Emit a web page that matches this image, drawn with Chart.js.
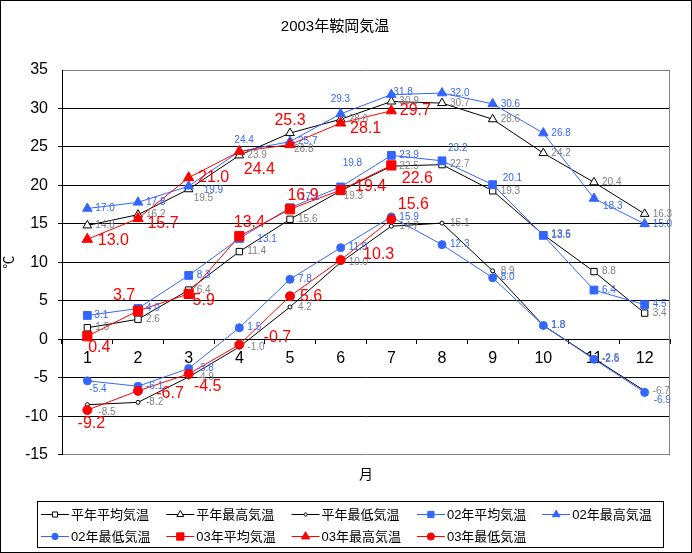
<!DOCTYPE html>
<html>
<head>
<meta charset="utf-8">
<script src="https://cdn.jsdelivr.net/npm/chart.js@4/dist/chart.umd.min.js"></script>
<style>
body { margin: 0; background: #fff; }
#wrap { width: 692px; height: 553px; }
</style>
</head>
<body>
<div id="wrap"><canvas id="tempChart" width="692" height="553"></canvas></div>
<script>
// months on the x axis
const months = ['1', '2', '3', '4', '5', '6', '7', '8', '9', '10', '11', '12'];
// normal year (平年)
const normAvg = [1.5, 2.6, 6.4, 11.4, 15.6, 19.3, 22.5, 22.7, 19.3, 13.6, 8.8, 3.4];
const normMax = [14.8, 16.2, 19.5, 23.9, 26.8, 28.6, 30.9, 30.7, 28.6, 24.2, 20.4, 16.3];
const normMin = [-8.5, -8.2, -4.9, -1.0, 4.2, 10.0, 14.7, 15.1, 8.9, 1.8, -2.5, -6.7];
// 2002
const avg02 = [3.1, 4.0, 8.3, 13.1, 17.1, 19.8, 23.9, 23.2, 20.1, 13.5, 6.4, 4.5];
const max02 = [17.0, 17.8, 19.9, 24.4, 25.7, 29.3, 31.8, 32.0, 30.6, 26.8, 18.3, 15.0];
const min02 = [-5.4, -6.1, -3.8, 1.5, 7.8, 11.9, 15.9, 12.3, 8.0, 1.8, -2.6, -6.9];
// 2003 (up to July)
const avg03 = [0.4, 3.7, 5.9, 13.4, 16.9, 19.4, 22.6, null, null, null, null, null];
const max03 = [13.0, 15.7, 21.0, 24.4, 25.3, 28.1, 29.7, null, null, null, null, null];
const min03 = [-9.2, -6.7, -4.5, -0.7, 5.6, 10.3, 15.6, null, null, null, null, null];
// y axis range
const yMin = -15;
const yMax = 35;
const yStep = 5;

const BLUE = '#3366ff';
const RED = '#ff0000';
const FONT = "'Liberation Sans', 'Noto Sans CJK JP', sans-serif";

// value label placement: small labels are left aligned (dx from point), big red ones centred
const smallGray = {color: '#808080', size: 10, align: 'left'};
const smallBlue = {color: BLUE, size: 10, align: 'left'};
const bigRed = {color: RED, size: 16, align: 'center'};
const labelMoves = [
  {0: [8, 0], 5: [3, 5]},
  {2: [5, 9], 4: [4, 16]},
  {0: [11, 8]},
  {0: [7, 0], 3: [18, 1], 4: [10, -10], 5: [2, -24], 7: [6, -13], 8: [10, -6]},
  {2: [15, 4], 3: [-5, -11], 5: [-10, -15], 6: [2, -2], 10: [9, 8]},
  {0: [2, 8], 11: [9, 8]},
  [[12, 11], [-14, -15], [15, 7], [10, -14], [13, -14], [30, -3], [26, 13]],
  [[26, 1], [25, 5], [25, 0], [20, 18], [0, -24], [25, 6], [24, 0]],
  [[4, 14], [32, 3], [19, 13], [38, -7], [21, 0], [38, -5], [22, -15]]
];
const labelLooks = [smallGray, smallGray, smallGray, smallBlue, smallBlue, smallBlue, bigRed, bigRed, bigRed];

function series(label, data, color, style, radius, fill, order) {
  return {
    label: label,
    data: data,
    order: order,
    borderColor: color,
    borderWidth: 1,
    pointStyle: style,
    pointRadius: radius,
    pointBorderWidth: 1,
    pointBorderColor: color,
    pointBackgroundColor: fill,
    tension: 0
  };
}

const valueLabels = {
  id: 'valueLabels',
  afterDatasetsDraw(chart) {
    const ctx = chart.ctx;
    ctx.save();
    ctx.textBaseline = 'middle';
    chart.data.datasets.forEach(function(ds, i) {
      const look = labelLooks[i];
      const moves = labelMoves[i];
      ctx.font = look.size + 'px ' + FONT;
      ctx.fillStyle = look.color;
      ctx.textAlign = look.align;
      chart.getDatasetMeta(i).data.forEach(function(pt, j) {
        const v = ds.data[j];
        if (v === null) return;
        const m = moves[j] || [8, 0];
        ctx.fillText(v.toFixed(1), pt.x + m[0], pt.y + m[1]);
      });
    });
    ctx.restore();
  }
};

const frame = {
  id: 'frame',
  afterDraw(chart) {
    const ctx = chart.ctx;
    const a = chart.chartArea;
    ctx.save();
    ctx.lineWidth = 1;
    ctx.strokeStyle = '#808080';
    ctx.beginPath();
    ctx.moveTo(Math.round(a.right) - 0.5, Math.round(a.top) + 0.5);
    ctx.lineTo(Math.round(a.right) - 0.5, Math.round(a.bottom) + 0.5);
    ctx.stroke();
    ctx.strokeStyle = '#000';
    ctx.strokeRect(0.5, 0.5, chart.width - 1, chart.height - 1);

    // legend box, two rows
    ctx.strokeRect(37.5, 501.5, 626, 46);
    ctx.font = '13px ' + FONT;
    ctx.textBaseline = 'middle';
    ctx.textAlign = 'left';
    chart.data.datasets.forEach(function(ds, i) {
      const x = 41 + (i % 5) * 125.3;
      const y = 514 + Math.floor(i / 5) * 22;
      ctx.strokeStyle = ds.borderColor;
      ctx.beginPath();
      ctx.moveTo(x, y + 0.5);
      ctx.lineTo(x + 28, y + 0.5);
      ctx.stroke();
      ctx.fillStyle = ds.pointBackgroundColor;
      ctx.strokeStyle = ds.pointBorderColor;
      Chart.helpers.drawPoint(ctx, {pointStyle: ds.pointStyle, radius: ds.pointRadius * 0.8, borderWidth: 1, rotation: 0}, x + 14, y + 0.5);
      ctx.fillStyle = '#000';
      ctx.fillText(ds.label, x + 30, y + 1);
    });
    ctx.restore();
  }
};

Chart.defaults.font.family = FONT;
Chart.defaults.color = '#000';

var ctx = document.getElementById('tempChart').getContext('2d');
var tempChart = new Chart(ctx, {
  type: 'line',
  data: {
    labels: months,
    datasets: [
      series('平年平均気温', normAvg, '#000000', 'rect', 4.5, '#ffffff', 3),
      series('平年最高気温', normMax, '#000000', 'triangle', 5, '#ffffff', 3),
      series('平年最低気温', normMin, '#000000', 'circle', 2, '#ffffff', 3),
      series('02年平均気温', avg02, BLUE, 'rect', 5.5, BLUE, 2),
      series('02年最高気温', max02, BLUE, 'triangle', 5.5, BLUE, 2),
      series('02年最低気温', min02, BLUE, 'circle', 4, BLUE, 2),
      series('03年平均気温', avg03, RED, 'rect', 6.5, RED, 1),
      series('03年最高気温', max03, RED, 'triangle', 6, RED, 1),
      series('03年最低気温', min03, RED, 'circle', 4.5, RED, 1)
    ]
  },
  options: {
    responsive: false,
    animation: false,
    devicePixelRatio: 1,
    layout: { padding: { top: 18, bottom: 69.5, left: 0, right: 22 } },
    plugins: {
      legend: { display: false },
      tooltip: { enabled: false },
      title: {
        display: true,
        text: '2003年鞍岡気温',
        color: '#000',
        font: { size: 15, weight: 'normal', lineHeight: 1.2 },
        padding: { top: 0, bottom: 34 }
      }
    },
    scales: {
      y: {
        min: yMin,
        max: yMax,
        ticks: { stepSize: yStep, padding: 10, font: { size: 16 }, color: '#000' },
        grid: {
          color: function(c) { return (c.tick && (c.tick.value === yMax || c.tick.value === yMin)) ? '#808080' : '#000'; },
          tickColor: function(c) { return (c.tick && c.tick.value === yMax) ? 'rgba(0,0,0,0)' : '#000'; },
          tickLength: 4
        },
        border: { color: '#000', width: 1 },
        title: { display: true, text: '℃', font: { size: 13 }, padding: { top: 2, bottom: 0 } },
        afterFit: function(s) { s.width = 62; }
      },
      x: {
        position: { y: 0 },
        offset: true,
        ticks: { font: { size: 16 }, color: '#000', padding: 6, maxRotation: 0 },
        grid: { offset: true, drawOnChartArea: false, drawTicks: true, tickLength: 4, color: '#000' },
        border: { color: '#000', width: 1 }
      },
      xTitle: {
        type: 'category',
        axis: 'x',
        position: 'bottom',
        ticks: { display: false },
        grid: { display: false, drawTicks: false },
        border: { display: false },
        title: { display: true, text: '月', font: { size: 14, lineHeight: 1.2 }, padding: { top: 12, bottom: 0 } }
      }
    }
  },
  plugins: [valueLabels, frame]
});
</script>
</body>
</html>
